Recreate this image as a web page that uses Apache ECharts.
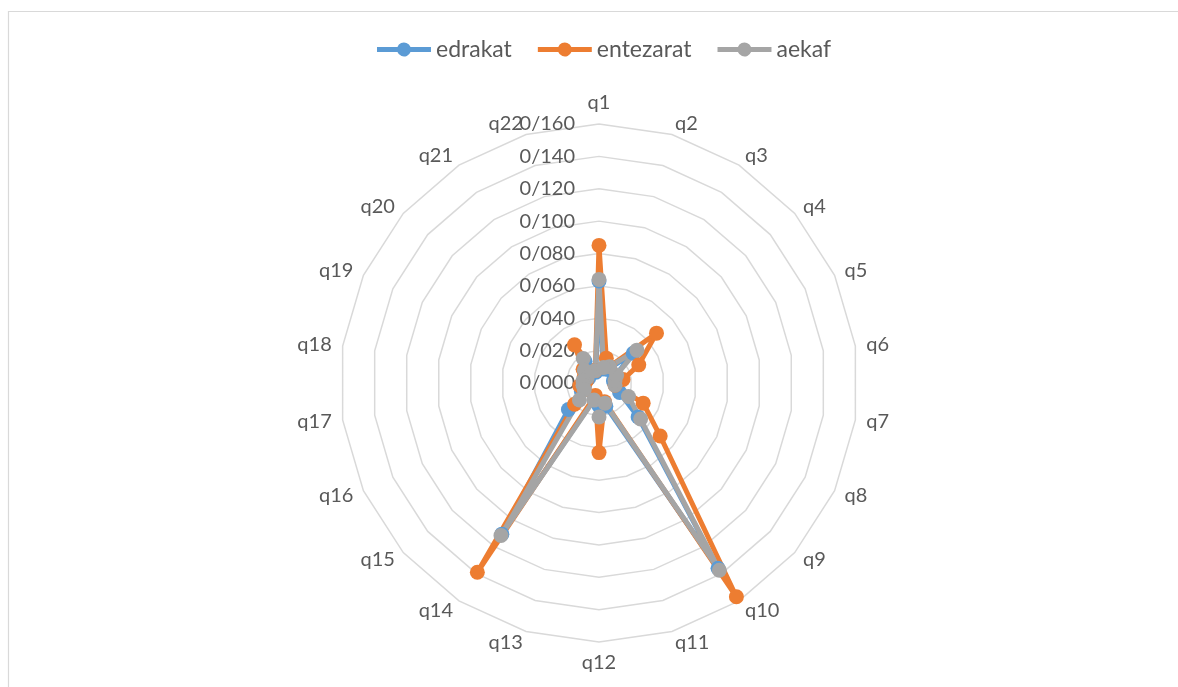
<!DOCTYPE html>
<html>
<head>
<meta charset="utf-8">
<script src="https://cdn.jsdelivr.net/npm/echarts@6/dist/echarts.min.js"></script>
<style>
  html, body { margin: 0; padding: 0; background: #fff; }
  #chart { width: 1178px; height: 687px; }
</style>
</head>
<body>
<div id="chart"></div>
<script>
// Questions around the radar, clockwise from the top
const questions = ['q1','q2','q3','q4','q5','q6','q7','q8','q9','q10','q11',
                   'q12','q13','q14','q15','q16','q17','q18','q19','q20','q21','q22'];

const edrakat = [0.063, 0.009, 0.010, 0.028, 0.011, 0.009, 0.011, 0.014, 0.032, 0.136, 0.015,
                 0.014, 0.010, 0.111, 0.025, 0.012, 0.009, 0.009, 0.007, 0.011, 0.016, 0.007];
const entezarat = [0.085, 0.016, 0.012, 0.047, 0.027, 0.015, 0.010, 0.030, 0.050, 0.157, 0.012,
                   0.043, 0.008, 0.139, 0.020, 0.010, 0.012, 0.008, 0.010, 0.013, 0.028, 0.008];
const aekaf = [0.064, 0.010, 0.012, 0.031, 0.012, 0.010, 0.010, 0.020, 0.034, 0.1375, 0.013,
               0.021, 0.011, 0.112, 0.016, 0.010, 0.010, 0.010, 0.008, 0.012, 0.018, 0.008];

const seriesNames = ['edrakat', 'entezarat', 'aekaf'];
const seriesValues = [edrakat, entezarat, aekaf];
const colors = ['#5B9BD5', '#ED7D31', '#A5A5A5'];

const axisMax = 0.16;
const ringCount = 8;

// ECharts lays indicators out counter-clockwise; reorder so they run clockwise
const order = [0].concat(questions.map((_, i) => i).slice(1).reverse());

const fontFamily = 'Lato, "Noto Sans", sans-serif';
const textColor = '#595959';

const indicators = order.map((i, k) => {
  const ind = { name: questions[i], min: 0, max: axisMax };
  if (k === 0) {
    ind.axisLabel = {
      show: true,
      color: textColor,
      fontSize: 20,
      fontFamily: fontFamily,
      margin: 24,
      formatter: v => v.toFixed(3).replace('.', '/')
    };
  }
  return ind;
});

// legend marker: a short thick line with a dot in the middle
const legendIcon = 'path://M0,4.5H20.46A7,7 0 0 1 33.54,4.5H54V9.5H33.54A7,7 0 0 1 20.46,9.5H0Z';

const chart = echarts.init(document.getElementById('chart'), null, { renderer: 'canvas' });
chart.setOption({
  animation: false,
  backgroundColor: '#fff',
  color: colors,
  graphic: [{
    type: 'rect',
    shape: { x: 8.5, y: 11.5, width: 1200, height: 700 },
    style: { fill: 'none', stroke: '#d9d9d9', lineWidth: 1.2 },
    silent: true
  }],
  legend: {
    top: 33,
    left: 372,
    itemWidth: 54,
    itemHeight: 14,
    itemGap: 26,
    icon: legendIcon,
    textStyle: { color: textColor, fontSize: 23, fontFamily: fontFamily },
    data: seriesNames
  },
  radar: {
    center: [599, 383],
    radius: 259,
    startAngle: 90,
    shape: 'polygon',
    splitNumber: ringCount,
    nameGap: 11,
    axisName: { color: textColor, fontSize: 20, fontFamily: fontFamily },
    axisLine: { show: false },
    axisTick: { show: false },
    axisLabel: { show: false },
    splitLine: { lineStyle: { color: '#d9d9d9', width: 1.5 } },
    splitArea: { show: false },
    indicator: indicators
  },
  series: [{
    type: 'radar',
    symbol: 'circle',
    symbolSize: 15,
    data: seriesNames.map((name, s) => ({
      name: name,
      value: order.map(i => seriesValues[s][i]),
      itemStyle: { color: colors[s] },
      lineStyle: { color: colors[s], width: 5 }
    }))
  }]
});
</script>
</body>
</html>
